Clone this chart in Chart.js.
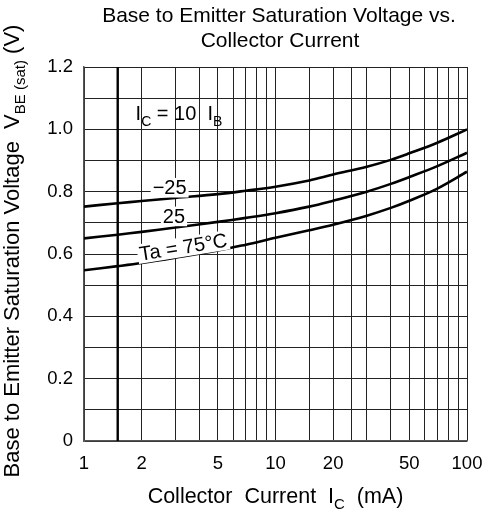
<!DOCTYPE html>
<html lang="en">
<head>
  <meta charset="UTF-8">
  <title>Base to Emitter Saturation Voltage vs. Collector Current</title>
  <script src="https://cdn.jsdelivr.net/npm/chart.js"></script>
  <style>
    html, body { margin: 0; padding: 0; background: #fff; }
    #wrap { width: 487px; height: 512px; }
  </style>
</head>
<body>
<div id="wrap"><canvas id="vbeChart" width="487" height="512"></canvas></div>

<script>
  // collector current (mA) where values were read
  const currents = [1, 1.5, 2, 3, 5, 7, 10, 15, 20, 30, 40, 50, 70, 100];
  // VBE(sat) in volts for each ambient temperature
  const vbeMinus25 = [0.752, 0.763, 0.770, 0.780, 0.792, 0.803, 0.816, 0.836, 0.855, 0.880, 0.902, 0.923, 0.957, 1.0];
  const vbe25      = [0.650, 0.662, 0.671, 0.685, 0.703, 0.716, 0.731, 0.752, 0.771, 0.800, 0.825, 0.847, 0.882, 0.925];
  const vbe75      = [0.548, 0.561, 0.571, 0.588, 0.611, 0.630, 0.652, 0.676, 0.694, 0.723, 0.748, 0.771, 0.810, 0.864];

  const xGridValues = [1, 2, 3, 4, 5, 6, 7, 8, 9, 10, 15, 20, 25, 30, 40, 50, 60, 70, 80, 90, 100];
  const xTickLabels = [1, 2, 5, 10, 20, 50, 100];
  const markerCurrent = 1.5;

  const FONT = "'Liberation Sans', Arial, sans-serif";

  function series(vals) {
    return currents.map((c, i) => ({ x: c, y: vals[i] }));
  }

  // draws text pieces, some of them as subscripts
  function drawRich(ctx, parts, x, y, size, align) {
    const subSize = Math.round(size * 0.7);
    let total = 0;
    parts.forEach(p => {
      ctx.font = (p.sub ? subSize : size) + 'px ' + FONT;
      total += ctx.measureText(p.t).width;
    });
    let cx = align === 'center' ? x - total / 2 : x;
    ctx.textAlign = 'left';
    ctx.textBaseline = 'alphabetic';
    parts.forEach(p => {
      ctx.font = (p.sub ? subSize : size) + 'px ' + FONT;
      ctx.fillText(p.t, cx, p.sub ? y + size * 0.28 : y);
      cx += ctx.measureText(p.t).width;
    });
  }

  function maskedText(ctx, text, x, y, size, angle) {
    ctx.save();
    ctx.translate(x, y);
    ctx.rotate(angle || 0);
    ctx.font = size + 'px ' + FONT;
    const w = ctx.measureText(text).width;
    ctx.fillStyle = '#fff';
    ctx.fillRect(-w / 2 - 2, -size * 0.5, w + 4, size * 0.98);
    ctx.fillStyle = '#000';
    ctx.textAlign = 'center';
    ctx.textBaseline = 'middle';
    ctx.fillText(text, 0, 1);
    ctx.restore();
  }

  const annotations = {
    id: 'annotations',
    afterDatasetsDraw(chart) {
      const ctx = chart.ctx;
      const xs = chart.scales.x, ys = chart.scales.y;
      maskedText(ctx, '\u221225', xs.getPixelForValue(2.8), ys.getPixelForValue(0.812), 20, 0);
      maskedText(ctx, '25', xs.getPixelForValue(2.95), ys.getPixelForValue(0.72), 20, 0);
      maskedText(ctx, 'Ta = 75\u00b0C', xs.getPixelForValue(3.3), ys.getPixelForValue(0.622), 20, -0.16);

      ctx.save();
      ctx.fillStyle = '#000';
      drawRich(ctx, [{ t: 'I' }, { t: 'C', sub: true }, { t: ' = 10  I' }, { t: 'B', sub: true }],
        xs.getPixelForValue(1.86), ys.getPixelForValue(1.03), 20, 'left');
      ctx.restore();
    },
    afterDraw(chart) {
      const ctx = chart.ctx;
      const area = chart.chartArea;
      ctx.save();
      ctx.fillStyle = '#000';
      ctx.font = '21px ' + FONT;
      ctx.textAlign = 'center';
      ctx.textBaseline = 'alphabetic';
      ctx.fillText('Base to Emitter Saturation Voltage vs.', 279, 22);
      ctx.fillText('Collector Current', 280, 47);

      drawRich(ctx, [{ t: 'Collector  Current  I' }, { t: 'C', sub: true }, { t: '  (mA)' }],
        (area.left + area.right) / 2, 503, 21.5, 'center');

      ctx.translate(19, 251);
      ctx.rotate(-Math.PI / 2);
      drawRich(ctx, [{ t: 'Base to Emitter Saturation Voltage  V' }, { t: 'BE (sat)', sub: true }, { t: ' (V)' }],
        0, 0, 22, 'center');
      ctx.restore();
    }
  };

  const ctx = document.getElementById('vbeChart').getContext('2d');

  const lineStyle = {
    borderColor: '#000',
    borderWidth: 2.6,
    pointRadius: 0,
    fill: false,
    tension: 0.35
  };

  new Chart(ctx, {
    type: 'line',
    data: {
      datasets: [
        Object.assign({ data: series(vbeMinus25) }, lineStyle),
        Object.assign({ data: series(vbe25) }, lineStyle),
        Object.assign({ data: series(vbe75) }, lineStyle),
        {
          data: [{ x: markerCurrent, y: 0 }, { x: markerCurrent, y: 1.2 }],
          borderColor: '#000',
          borderWidth: 2.4,
          pointRadius: 0,
          tension: 0
        }
      ]
    },
    options: {
      responsive: false,
      animation: false,
      layout: { padding: { left: 0, right: 20, top: 67, bottom: 0 } },
      plugins: {
        legend: { display: false },
        title: { display: false },
        tooltip: { enabled: false }
      },
      scales: {
        x: {
          type: 'logarithmic',
          min: 1,
          max: 100,
          afterBuildTicks: s => { s.ticks = xGridValues.map(v => ({ value: v })); },
          afterFit: s => { s.height = 71; s.paddingRight = 0; s.paddingLeft = 0; },
          grid: { color: '#222', lineWidth: 1, drawTicks: false },
          border: { color: '#555', width: 1.5 },
          ticks: {
            autoSkip: false,
            maxRotation: 0,
            padding: 12,
            color: '#000',
            font: { family: FONT, size: 18.5 },
            callback: v => xTickLabels.includes(v) ? String(v) : ''
          }
        },
        y: {
          min: 0,
          max: 1.2,
          afterFit: s => { s.width = 84; },
          grid: { color: '#222', lineWidth: 1, drawTicks: false },
          border: { color: '#555', width: 1.5 },
          ticks: {
            stepSize: 0.1,
            padding: 11,
            color: '#000',
            font: { family: FONT, size: 18.5 },
            callback: v => {
              const k = Math.round(v * 10);
              if (k % 2 !== 0) return '';
              return k === 0 ? '0' : (k / 10).toFixed(1);
            }
          }
        }
      }
    },
    plugins: [annotations]
  });
</script>
</body>
</html>
